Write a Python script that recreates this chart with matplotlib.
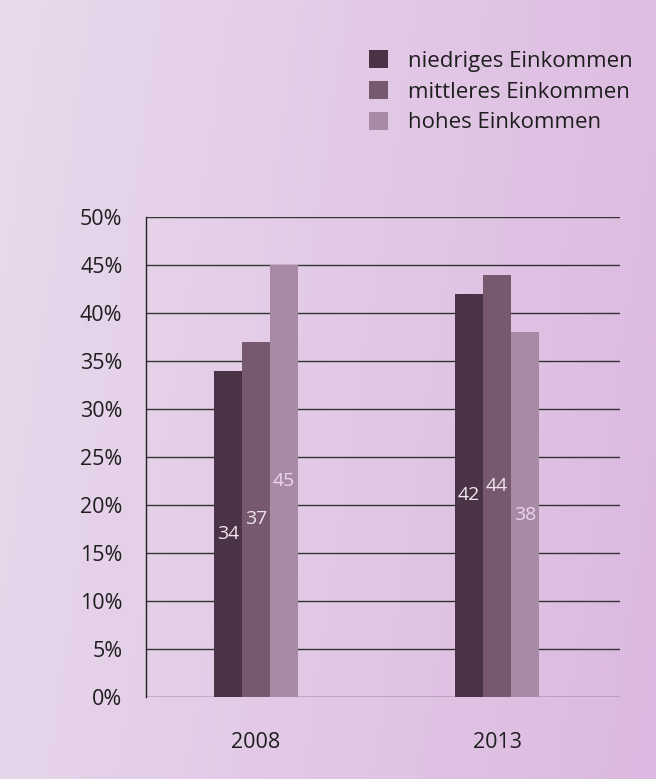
import numpy as np
import matplotlib.pyplot as plt
from matplotlib.patches import Patch

years = ["2008", "2013"]
niedrig = [34, 42]
mittel = [37, 44]
hoch = [45, 38]
series_names = ["niedriges Einkommen", "mittleres Einkommen", "hohes Einkommen"]
colors = ["#4a3346", "#76596f", "#a98aa5"]
label_colors = ["#eee6ee", "#eee2ee", "#ecd6ec"]

plt.rcParams['font.family'] = ['Open Sans', 'DejaVu Sans']

fig = plt.figure(figsize=(6.56, 7.79), dpi=100)

# background gradient (mostly left -> right)
bg = fig.add_axes([0, 0, 1, 1])
gx, gy = np.meshgrid(np.linspace(0, 1, 200), np.linspace(0, 1, 200))
t = np.clip(0.85 * gx + 0.15 * gy, 0, 1)
c0 = np.array([0xe8, 0xda, 0xec]) / 255
c1 = np.array([0xdc, 0xb9, 0xe0]) / 255
img = c0[None, None, :] * (1 - t[..., None]) + c1[None, None, :] * t[..., None]
bg.imshow(img, aspect='auto', extent=[0, 1, 0, 1], origin='upper')
bg.axis('off')

ax = fig.add_axes([146 / 656, 1 - 697 / 779, 474 / 656, 480 / 779])
ax.set_facecolor('none')

x = np.arange(len(years))
w = 0.116
for i, vals in enumerate([niedrig, mittel, hoch]):
    pos = x + (i - 1) * w
    ax.bar(pos, vals, width=w, color=colors[i], zorder=3)
    for p, v in zip(pos, vals):
        ax.text(p, v / 2, str(v), ha='center', va='center', fontsize=14,
                color=label_colors[i], zorder=4)

ax.set_ylim(0, 50)
ax.set_xlim(-0.456, 1.51)
ax.set_yticks(np.arange(0, 51, 5))
ax.set_yticklabels([f"{v}%" for v in range(0, 51, 5)], fontsize=15.5, color="#1e1e1e")
ax.set_xticks(x)
ax.set_xticklabels(years, fontsize=15.5, color="#1e1e1e")
ax.tick_params(axis='both', length=0)
ax.tick_params(axis='y', pad=17)
ax.tick_params(axis='x', pad=25)
ax.yaxis.grid(True, color="#333333", linewidth=1.0, zorder=1)
for s in ['top', 'right', 'bottom']:
    ax.spines[s].set_visible(False)
ax.spines['left'].set_color("#222222")
ax.spines['left'].set_linewidth(1.0)

handles = [Patch(facecolor=c, edgecolor='none') for c in colors]
fig.legend(handles, series_names, loc='upper left', bbox_to_anchor=(349 / 656, 1 - 30 / 779),
           frameon=False, fontsize=16, handlelength=0.86, handleheight=0.9,
           handletextpad=0.9, labelspacing=0.4, labelcolor="#1e1e1e")

fig.savefig("out.png", dpi=100)
